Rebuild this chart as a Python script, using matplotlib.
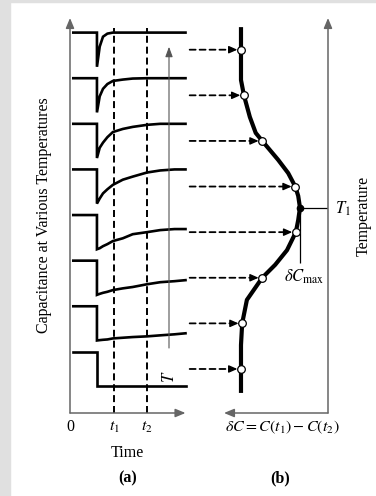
import numpy as np
import matplotlib
matplotlib.use("Agg")
from matplotlib import pyplot as plt
from matplotlib.patches import ConnectionPatch, Rectangle

plt.rcParams['font.family'] = ['Liberation Serif', 'DejaVu Serif']
plt.rcParams['mathtext.fontset'] = 'stix'

# transient time axis (arbitrary units), rate window t1 / t2
t_start = 0.3
t_pulse = 2.45
t_end = 10.5
t1 = 4.0
t2 = 7.0
sample_t = [2.45, 2.7, 3.0, 3.4, 3.9, 4.8, 5.7, 7.0, 8.2, 9.5, 10.5]

# capacitance baseline of each trace, top trace = highest temperature
baselines = [8, 7, 6, 5, 4, 3, 2, 1]
drop = 0.75

# normalised capacitance deficit after the pulse, one row per trace
deficit = [
    [1.0, 0.41, 0.12, 0.03, 0.0, 0.0, 0.0, 0.0, 0.0, 0.0, 0.0],
    [1.0, 0.53, 0.31, 0.17, 0.08, 0.04, 0.01, 0.0, 0.0, 0.0, 0.0],
    [1.0, 0.70, 0.55, 0.39, 0.24, 0.15, 0.09, 0.03, 0.0, 0.0, 0.0],
    [1.0, 0.85, 0.70, 0.58, 0.45, 0.30, 0.21, 0.09, 0.03, 0.0, 0.0],
    [1.0, 0.97, 0.91, 0.85, 0.76, 0.68, 0.56, 0.50, 0.44, 0.41, 0.41],
    [1.0, 0.97, 0.94, 0.91, 0.86, 0.81, 0.77, 0.69, 0.63, 0.60, 0.57],
    [1.0, 0.99, 0.98, 0.97, 0.94, 0.92, 0.90, 0.88, 0.85, 0.82, 0.79],
    [1.0, 1.0, 1.0, 1.0, 1.0, 1.0, 1.0, 1.0, 1.0, 1.0, 1.0],
]

# DLTS signal dC at each trace level, and the full curve vs temperature
signal_pts = [0.0, 0.05, 0.36, 0.92, 0.93, 0.36, 0.02, 0.0]
curve_T = [8.12, 7.625, 6.96, 6.625, 6.15, 5.80, 5.625, 5.21, 4.92, 4.625,
           4.42, 4.16, 3.89, 3.625, 3.23, 2.91, 2.625, 2.14, 1.625, 1.15,
           0.625, 0.10]
curve_dC = [0.0, 0.0, 0.0, 0.05, 0.15, 0.25, 0.36, 0.63, 0.80, 0.92,
            0.97, 1.0, 0.97, 0.93, 0.78, 0.58, 0.36, 0.10, 0.02, 0.0,
            0.0, 0.0]
T1 = 4.16
dCmax_low = 2.95
T_arrow = (9.0, 1.085, 7.69)

W, H = 376, 496
fig = plt.figure(figsize=(W / 100, H / 100), dpi=100)
fig.add_artist(Rectangle((0, 0), 10 / W, 1, transform=fig.transFigure,
                         color='#e0e0e0', zorder=-5))
fig.add_artist(Rectangle((0, 1 - 2 / H), 1, 2 / H, transform=fig.transFigure,
                         color='#e0e0e0', zorder=-5))

ax_a = fig.add_axes([70 / W, 83 / H, 115.5 / W, 395 / H])
ax_b = fig.add_axes([224 / W, 83 / H, 104 / W, 395 / H])
ylim = (-0.34, 8.32)
for ax in (ax_a, ax_b):
    ax.set_facecolor('none')
    for s in ax.spines.values():
        s.set_visible(False)
    ax.set_ylim(*ylim)
    ax.set_yticks([])
ax_a.set_xlim(0, t_end)
ax_b.set_xlim(-0.288, 1.475)
ax_b.set_xticks([])

axcol = '#666666'
head = '-|>,head_length=0.6,head_width=0.25'

# panel (a)
ax_a.annotate('', xy=(0, 1), xytext=(0, 0), xycoords='axes fraction',
              arrowprops=dict(arrowstyle=head, color=axcol, lw=1.1,
                              shrinkA=0, shrinkB=0))
ax_a.annotate('', xy=(1, 0), xytext=(0, 0), xycoords='axes fraction',
              arrowprops=dict(arrowstyle=head, color=axcol, lw=1.1,
                              shrinkA=0, shrinkB=0))
ax_a.vlines([t1, t2], ylim[0], 8.1, colors='black', lw=1.4,
            linestyles=[(0, (3.6, 2.0))])
for base, d in zip(baselines, deficit):
    tt = [t_start, t_pulse] + sample_t
    cc = [base, base] + [base - drop * v for v in d]
    ax_a.plot(tt, cc, color='black', lw=1.9, solid_joinstyle='miter',
              clip_on=False)
ax_a.annotate('', xy=(T_arrow[0], T_arrow[2]), xytext=(T_arrow[0], T_arrow[1]),
              arrowprops=dict(arrowstyle='-|>,head_length=0.6,head_width=0.22',
                              color='#555555', lw=0.8, shrinkA=0, shrinkB=0))
ax_a.text(T_arrow[0] + 0.1, 0.45, '$T$', rotation=90, ha='center', va='center',
          fontsize=12)

ax_a.set_xticks([0, t1, t2], labels=['0', '$t_1$', '$t_2$'], fontsize=11.5)
ax_a.tick_params(length=0, pad=4)
ax_a.annotate('Time', xy=(0.5, 0), xycoords='axes fraction', xytext=(0, -29),
              textcoords='offset points', ha='center', va='center',
              fontsize=11.5)
ax_a.annotate('(a)', xy=(0.5, 0), xycoords='axes fraction', xytext=(0, -47),
              textcoords='offset points', ha='center', va='center',
              fontsize=11.5, fontweight='bold')
ax_a.annotate('Capacitance at Various Temperatures', xy=(0, 0.5),
              xycoords='axes fraction', xytext=(-19, 0),
              textcoords='offset points', ha='center', va='center',
              rotation=90, fontsize=11.5)

# panel (b)
ax_b.annotate('', xy=(1, 1), xytext=(1, 0), xycoords='axes fraction',
              arrowprops=dict(arrowstyle=head, color=axcol, lw=1.1,
                              shrinkA=0, shrinkB=0))
ax_b.annotate('', xy=(0, 0), xytext=(1, 0), xycoords='axes fraction',
              arrowprops=dict(arrowstyle=head, color=axcol, lw=1.1,
                              shrinkA=0, shrinkB=0))
ax_b.plot(curve_dC, curve_T, color='black', lw=3.0, solid_capstyle='butt',
          zorder=3)
peak = max(curve_dC)
ax_b.hlines(T1, peak, ax_b.get_xlim()[1], colors='black', lw=0.9)
ax_b.vlines(peak, dCmax_low, T1, colors='black', lw=0.9)
ax_b.plot([peak], [T1], 'o', color='black', ms=4.5, zorder=5)

levels = [b - drop / 2 for b in baselines]
r_pt = 2.6
for lvl, s in zip(levels, signal_pts):
    con = ConnectionPatch(xyA=(t_end, lvl), coordsA='data', axesA=ax_a,
                          xyB=(s, lvl), coordsB='data', axesB=ax_b,
                          arrowstyle='-', lw=1.3, color='black',
                          linestyle=(0, (3.3, 2.2)),
                          shrinkA=3, shrinkB=r_pt + 5)
    fig.add_artist(con)
    ax_b.annotate('', xy=(s, lvl), xytext=(-(r_pt + 5.5), 0),
                  textcoords='offset points',
                  arrowprops=dict(arrowstyle='-|>,head_length=0.5,head_width=0.22',
                                  color='black', lw=1.0, shrinkA=0,
                                  shrinkB=r_pt))
ax_b.plot(signal_pts, levels, 'o', mfc='white', mec='black', mew=0.9, ms=5.5,
          zorder=6, clip_on=False)

ax_b.annotate('$T_1$', xy=(1, T1), xycoords=('axes fraction', 'data'),
              xytext=(5, -1), textcoords='offset points', ha='left',
              va='center', fontsize=12)
ax_b.annotate(r'$\delta C_{\mathrm{max}}$', xy=(peak, dCmax_low),
              xytext=(3, -3), textcoords='offset points', ha='center',
              va='top', fontsize=12)
ax_b.annotate(r'$\delta C = C(t_1) - C(t_2)$', xy=(0.56, 0),
              xycoords='axes fraction', xytext=(0, -10),
              textcoords='offset points', ha='center', va='center',
              fontsize=11.5)
ax_b.annotate('(b)', xy=(0.54, 0), xycoords='axes fraction', xytext=(0, -47),
              textcoords='offset points', ha='center', va='center',
              fontsize=11.5, fontweight='bold')
ax_b.annotate('Temperature', xy=(1, 0.5), xycoords='axes fraction',
              xytext=(26, 0), textcoords='offset points', ha='center',
              va='center', rotation=90, fontsize=11.5)

fig.savefig('out.png', dpi=100)
